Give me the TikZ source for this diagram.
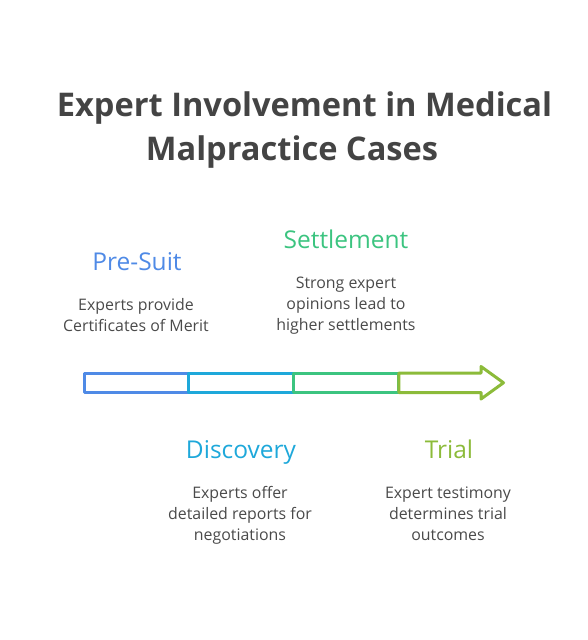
\documentclass[tikz,border=0pt]{standalone}
\usepackage{fontspec}
\setmainfont{Open Sans}
\definecolor{cblue}{HTML}{4F8AE6}
\definecolor{ccyan}{HTML}{1EA8DA}
\definecolor{cgreen}{HTML}{3CC480}
\definecolor{clime}{HTML}{8CBB3A}
\definecolor{ctitle}{HTML}{444444}
\definecolor{cbody}{HTML}{4A4A4A}
\begin{document}
\begin{tikzpicture}[x=1pt,y=-1pt,
  title/.style={anchor=base,inner sep=0pt,text=ctitle,font=\fontsize{32.6}{40}\selectfont\bfseries},
  head/.style={anchor=base,inner sep=0pt,font=\fontsize{24.5}{30}\selectfont},
  body/.style={anchor=north,inner sep=0pt,align=center,text=cbody,font=\fontsize{15.9}{21}\selectfont},
  seg/.style={line width=3pt,line join=round,fill=white}]
\useasboundingbox (0,0) rectangle (588,640);
% title
\node[title] (t1) at (304.5,116) {Expert Involvement in Medical};
\node[title] (t2) at (292,160) {Malpractice Cases};
% arrow segments
\draw[seg,draw=cblue] (84.8,373) rectangle (188.8,392.5);
\draw[seg,draw=ccyan] (188.8,373) rectangle (293.8,392.5);
\draw[seg,draw=cgreen] (293.8,373) rectangle (398.8,392.5);
\draw[seg,draw=clime] (398.8,373) -- (481,373) -- (481,366.5) -- (503.5,382.75) -- (481,399) -- (481,392.5) -- (398.8,392.5) -- cycle;
% Pre-Suit
\node[head,text=cblue] (h1) at (137,270) {Pre-Suit};
\node[body] (b1) at (136,295.5) {\strut Experts provide\\Certificates of Merit};
% Settlement
\node[head,text=cgreen] (h3) at (346,248) {Settlement};
\node[body] (b3) at (346,273.5) {\strut Strong expert\\opinions lead to\\higher settlements};
% Discovery
\node[head,text=ccyan] (h2) at (241,458) {Discovery};
\node[body] (b2) at (240,483.5) {\strut Experts offer\\detailed reports for\\negotiations};
% Trial
\node[head,text=clime] (h4) at (449,458) {Trial};
\node[body] (b4) at (448,483.5) {\strut Expert testimony\\determines trial\\outcomes};
\end{tikzpicture}
\end{document}
